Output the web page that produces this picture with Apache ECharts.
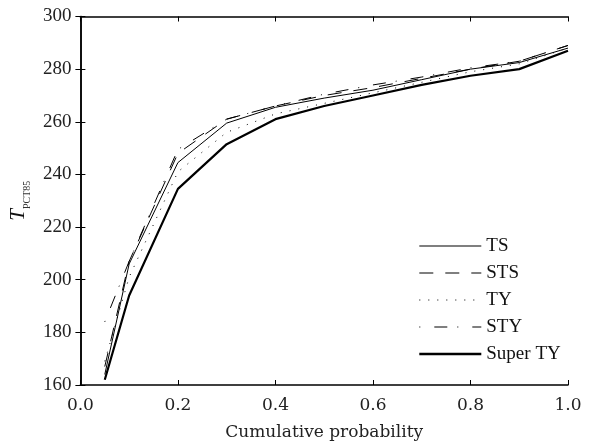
<!DOCTYPE html>
<html><head><meta charset="utf-8">
<script src="https://cdn.jsdelivr.net/npm/echarts@6/dist/echarts.min.js"></script>
<style>html,body{margin:0;padding:0;background:#fff}#c{width:597px;height:446px}</style>
</head><body><div id="c"></div>
<script>
const probs = [0.05, 0.1, 0.2, 0.3, 0.4, 0.5, 0.6, 0.7, 0.8, 0.9, 1.0];
const ts      = [164, 206, 244.5, 259.5, 265.5, 269, 272, 276, 280, 282.5, 288];
const sts     = [167, 207, 248, 261, 266, 270, 273, 276.5, 280, 283, 289];
const ty      = [169, 201, 241, 256, 263, 267, 271, 275, 279, 282, 288];
const sty     = [184, 207, 249.5, 261, 266, 270.5, 274, 277, 280.5, 283, 289];
const superTy = [162, 194, 234.5, 251.5, 261, 266, 270, 274, 277.5, 280, 287];
const seriesNames = ['TS', 'STS', 'TY', 'STY', 'Super TY'];
const xTicks = [0, 0.2, 0.4, 0.6, 0.8, 1.0];
const yTicks = [160, 180, 200, 220, 240, 260, 280, 300];

const pair = arr => probs.map((p, i) => [p, arr[i]]);
const styles = [
  {width: 1, type: 'solid'},
  {width: 1, type: [14, 12]},
  {width: 1, type: [1, 8]},
  {width: 1, type: [1, 14, 13, 10]},
  {width: 2.2, type: 'solid'}
];
const dataSets = [ts, sts, ty, sty, superTy];

const chart = echarts.init(document.getElementById('c'), null, {renderer: 'canvas'});
const axisCommon = {
  axisLine: {show: true, lineStyle: {color: '#000', width: 1.5}},
  axisTick: {show: true, inside: true, length: 5, lineStyle: {color: '#000', width: 1}},
  splitLine: {show: false}
};
chart.setOption({
  animation: false,
  backgroundColor: '#fff',
  grid: {left: 77, right: 29, top: 16.5, bottom: 58, containLabel: false},
  legend: {
    orient: 'vertical', left: 413, top: 231,
    itemWidth: 62, itemHeight: 20, itemGap: 7,
    data: seriesNames.map((n, i) => ({name: n, lineStyle: {width: styles[i].width === 1 ? 1.2 : 2.6, type: styles[i].type, color: '#000'}})),
    itemStyle: {opacity: 0},
    textStyle: {fontFamily: 'Liberation Serif', fontSize: 19, color: '#111', lineHeight: 20}
  },
  xAxis: [
    Object.assign({
      type: 'value', min: xTicks[0], max: xTicks[xTicks.length - 1], interval: 0.2, position: 'bottom',
      name: 'Cumulative probability', nameLocation: 'middle', nameGap: 39,
      nameTextStyle: {fontFamily: 'DejaVu Serif', fontSize: 17, color: '#222'},
      axisLabel: {fontFamily: 'DejaVu Serif', fontSize: 17, color: '#222', margin: 12,
        formatter: v => v.toFixed(1)}
    }, axisCommon),
    Object.assign({
      type: 'value', min: xTicks[0], max: xTicks[xTicks.length - 1], interval: 0.2, position: 'top',
      axisLabel: {show: false}
    }, axisCommon)
  ],
  yAxis: [
    Object.assign({
      type: 'value', min: yTicks[0], max: yTicks[yTicks.length - 1], interval: 20, position: 'left',
      name: '{t|T}{s|PCT85}', nameLocation: 'middle', nameGap: 47, nameRotate: 90,
      nameTextStyle: {
        rich: {
          t: {fontFamily: 'Liberation Serif', fontStyle: 'italic', fontSize: 21, color: '#111', verticalAlign: 'bottom'},
          s: {fontFamily: 'Liberation Serif', fontSize: 10, color: '#333', verticalAlign: 'bottom', padding: [0, 0, -3, 0]}
        }
      },
      axisLabel: {fontFamily: 'Liberation Serif', fontSize: 19, color: '#222', margin: 9}
    }, axisCommon),
    Object.assign({
      type: 'value', min: yTicks[0], max: yTicks[yTicks.length - 1], interval: 20, position: 'right',
      axisLabel: {show: false}
    }, axisCommon)
  ],
  series: seriesNames.map((n, i) => ({
    name: n, type: 'line', xAxisIndex: 0, yAxisIndex: 0,
    data: pair(dataSets[i]), symbol: 'none', silent: true,
    lineStyle: {color: '#000', width: styles[i].width, type: styles[i].type},
    itemStyle: {color: '#000'}
  }))
});
</script></body></html>
